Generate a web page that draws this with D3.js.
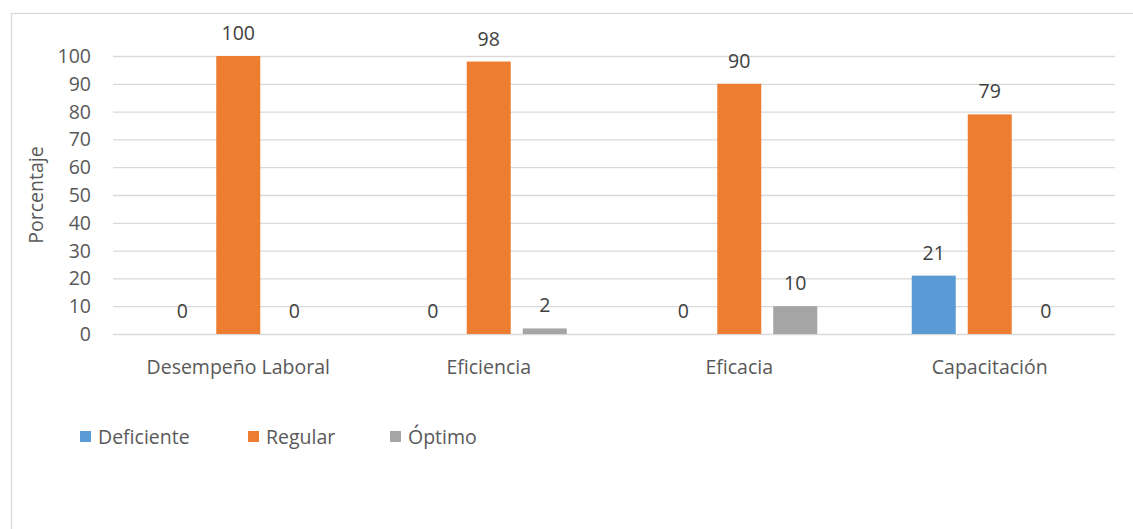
<!DOCTYPE html>
<html lang="es">
<head>
<meta charset="utf-8">
<title>Porcentaje por dimensión</title>
<script src="https://cdnjs.cloudflare.com/ajax/libs/d3/7.8.5/d3.min.js"></script>
<style>
    body { margin: 0; background: #fff; }
    text { font-family: "Open Sans", "Noto Sans", sans-serif; }
</style>
</head>
<body>
<div id="chart"></div>
<script>
    // datos
    var categories = ["Desempeño Laboral", "Eficiencia", "Eficacia", "Capacitación"];
    var series = ["Deficiente", "Regular", "Óptimo"];
    var deficiente = [0, 0, 0, 21];
    var regular = [100, 98, 90, 79];
    var optimo = [0, 2, 10, 0];
    var yTicks = [0, 10, 20, 30, 40, 50, 60, 70, 80, 90, 100];
    var colors = ["#5b9bd5", "#ed7d31", "#a5a5a5"];

    var values = [deficiente, regular, optimo];
    var W = 1133, H = 529;
    var left = 113, right = 1115;
    var fs = 19.5;

    var svg = d3.select("#chart").append("svg")
        .attr("width", W).attr("height", H);

    // marco del área del gráfico
    svg.append("rect")
        .attr("x", 11.5).attr("y", 13.5)
        .attr("width", W + 10).attr("height", H + 10)
        .attr("fill", "none").attr("stroke", "#d9d9d9").attr("stroke-width", 1.3);

    var x = d3.scaleBand().domain(categories).range([left, right]);
    var y = d3.scaleLinear().domain([0, 100]).range([334, 56]);

    var step = 56, barW = 44;

    // rejilla
    svg.append("g").selectAll("line").data(yTicks).join("line")
        .attr("x1", left).attr("x2", right)
        .attr("y1", function (d) { return y(d) + 0.5; })
        .attr("y2", function (d) { return y(d) + 0.5; })
        .attr("stroke", "#d9d9d9").attr("stroke-width", 1.3);

    // etiquetas del eje y
    svg.append("g").selectAll("text").data(yTicks).join("text")
        .attr("x", 91).attr("y", function (d) { return y(d); })
        .attr("dy", "0.36em").attr("text-anchor", "end")
        .attr("fill", "#595959").attr("font-size", fs)
        .text(function (d) { return d; });

    svg.append("text")
        .attr("transform", "translate(36,195) rotate(-90)")
        .attr("dy", "0.36em")
        .attr("text-anchor", "middle").attr("fill", "#595959")
        .attr("font-size", fs).text("Porcentaje");

    // barras
    series.forEach(function (s, si) {
        var g = svg.append("g");
        var cx = function (c) { return x(c) + x.bandwidth() / 2 + (si - 1) * step; };
        g.selectAll("rect").data(categories).join("rect")
            .attr("x", function (c) { return cx(c) - barW / 2; })
            .attr("width", barW)
            .attr("y", function (c, i) { return y(values[si][i]); })
            .attr("height", function (c, i) { return y(0) - y(values[si][i]); })
            .attr("fill", colors[si]);
        g.selectAll("text").data(categories).join("text")
            .attr("x", cx)
            .attr("y", function (c, i) { return y(values[si][i]) - 23; })
            .attr("dy", "0.36em").attr("text-anchor", "middle")
            .attr("fill", "#404040").attr("font-size", fs)
            .text(function (c, i) { return values[si][i]; });
    });

    // etiquetas de categorías
    svg.append("g").selectAll("text").data(categories).join("text")
        .attr("x", function (c) { return x(c) + x.bandwidth() / 2; })
        .attr("y", 367).attr("dy", "0.36em").attr("text-anchor", "middle")
        .attr("fill", "#595959").attr("font-size", fs)
        .text(function (c) { return c; });

    // leyenda
    var legX = [80, 248, 390];
    var leg = svg.append("g").selectAll("g").data(series).join("g")
        .attr("transform", function (d, i) { return "translate(" + legX[i] + ",437)"; });
    leg.append("rect").attr("x", 0).attr("y", -6).attr("width", 11).attr("height", 11)
        .attr("fill", function (d, i) { return colors[i]; });
    leg.append("text").attr("x", 18).attr("dy", "0.36em")
        .attr("fill", "#595959").attr("font-size", fs)
        .text(function (d) { return d; });
</script>
</body>
</html>
